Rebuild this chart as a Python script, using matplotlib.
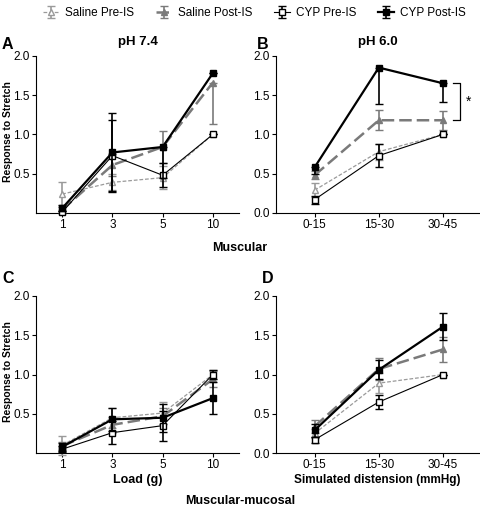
import matplotlib
matplotlib.use("Agg")
import matplotlib.pyplot as plt

plt.rcParams['font.family'] = ['Liberation Sans', 'DejaVu Sans']

series = ['Saline Pre-IS', 'Saline Post-IS', 'CYP Pre-IS', 'CYP Post-IS']
load_labels = ['1', '3', '5', '10']
dist_labels = ['0-15', '15-30', '30-45']

# means, lower and upper errors, one row per series (same order as `series`)
a_mean = [[0.24, 0.39, 0.45, 1.00],
          [0.04, 0.61, 0.84, 1.66],
          [0.01, 0.73, 0.48, 1.00],
          [0.06, 0.77, 0.84, 1.78]]
a_lo = [[0.16, 0.10, 0.15, 0.0],
        [0.04, 0.14, 0.20, 0.53],
        [0.01, 0.45, 0.15, 0.0],
        [0.04, 0.50, 0.40, 0.0]]
a_hi = [[0.16, 0.10, 0.15, 0.0],
        [0.04, 0.14, 0.20, 0.0],
        [0.01, 0.45, 0.15, 0.0],
        [0.04, 0.50, 0.0, 0.0]]

b_mean = [[0.29, 0.78, 1.00],
          [0.48, 1.18, 1.18],
          [0.17, 0.73, 1.00],
          [0.58, 1.85, 1.65]]
b_lo = [[0.09, 0.10, 0.0],
        [0.05, 0.13, 0.12],
        [0.05, 0.15, 0.0],
        [0.08, 0.46, 0.24]]
b_hi = [[0.09, 0.10, 0.0],
        [0.05, 0.13, 0.12],
        [0.05, 0.15, 0.0],
        [0.0, 0.0, 0.0]]

c_mean = [[0.10, 0.45, 0.51, 1.00],
          [0.09, 0.36, 0.47, 0.94],
          [0.05, 0.26, 0.35, 1.00],
          [0.08, 0.43, 0.45, 0.70]]
c_lo = [[0.12, 0.13, 0.14, 0.06],
        [0.05, 0.10, 0.10, 0.10],
        [0.04, 0.15, 0.19, 0.06],
        [0.05, 0.15, 0.18, 0.20]]
c_hi = c_lo

d_mean = [[0.25, 0.89, 1.00],
          [0.34, 1.07, 1.32],
          [0.17, 0.65, 1.00],
          [0.29, 1.06, 1.61]]
d_lo = [[0.06, 0.13, 0.0],
        [0.08, 0.14, 0.16],
        [0.04, 0.09, 0.0],
        [0.08, 0.12, 0.17]]
d_hi = d_lo

styles = [
    dict(color='#9a9a9a', ls=(0, (3, 1.5)), lw=0.9, marker='^', mfc='white', ms=5),
    dict(color='#7a7a7a', ls=(0, (5, 2)), lw=1.8, marker='^', mfc='#7a7a7a', ms=5),
    dict(color='black', ls='-', lw=0.8, marker='s', mfc='white', ms=5),
    dict(color='black', ls='-', lw=1.6, marker='s', mfc='black', ms=5),
]

fig = plt.figure(figsize=(4.8, 5.12), dpi=100)
ax_a = fig.add_axes([0.075, 0.584, 0.423, 0.307])
ax_b = fig.add_axes([0.575, 0.584, 0.423, 0.307])
ax_c = fig.add_axes([0.075, 0.115, 0.423, 0.307])
ax_d = fig.add_axes([0.575, 0.115, 0.423, 0.307])

handles = []
for ax, means, lo, hi, labels in [(ax_a, a_mean, a_lo, a_hi, load_labels),
                                  (ax_b, b_mean, b_lo, b_hi, dist_labels),
                                  (ax_c, c_mean, c_lo, c_hi, load_labels),
                                  (ax_d, d_mean, d_lo, d_hi, dist_labels)]:
    x = list(range(len(labels)))
    handles = []
    for i in range(4):
        st = styles[i]
        h = ax.errorbar(x, means[i], yerr=[lo[i], hi[i]], color=st['color'],
                        ls=st['ls'], lw=st['lw'], marker=st['marker'],
                        mfc=st['mfc'], mec=st['color'], ms=st['ms'], mew=1.0,
                        elinewidth=1.2, capsize=3, capthick=1.0, zorder=2 + i,
                        clip_on=False, label=series[i])
        handles.append(h)
    ax.set_xticks(x)
    ax.set_xticklabels(labels)
    ax.set_ylim(0, 2.0)
    for s in ['top', 'right']:
        ax.spines[s].set_visible(False)
    ax.tick_params(labelsize=8.5, length=3, width=0.8, direction='out', pad=1.5)

for ax in (ax_a, ax_c):
    ax.set_xlim(-0.52, 3.52)
    ax.set_yticks([0.5, 1.0, 1.5, 2.0])
    ax.set_yticklabels(['0.5', '1.0', '1.5', '2.0'])
for ax in (ax_b, ax_d):
    ax.set_xlim(-0.6, 2.56)
    ax.set_yticks([0.0, 0.5, 1.0, 1.5, 2.0])
    ax.set_yticklabels(['0.0', '0.5', '1.0', '1.5', '2.0'])

fig.text(0.016, 0.744, 'Response to Stretch', rotation=90, fontsize=7.5,
         fontweight='bold', ha='center', va='center')
fig.text(0.016, 0.275, 'Response to Stretch', rotation=90, fontsize=7.5,
         fontweight='bold', ha='center', va='center')

ax_c.set_xlabel('Load (g)', fontsize=9, fontweight='bold', labelpad=2)
ax_d.set_xlabel('Simulated distension (mmHg)', fontsize=8.5, fontweight='bold', labelpad=2)

ax_a.text(0.5, 1.05, 'pH 7.4', transform=ax_a.transAxes, ha='center', va='bottom',
          fontsize=9.5, fontweight='bold')
ax_b.text(0.5, 1.05, 'pH 6.0', transform=ax_b.transAxes, ha='center', va='bottom',
          fontsize=9.5, fontweight='bold')

# significance bracket in panel B
ax_b.plot([2.16, 2.26, 2.26, 2.16], [1.66, 1.66, 1.18, 1.18], color='black',
          lw=0.9, clip_on=False)
ax_b.text(2.4, 1.42, '*', ha='center', va='center', fontsize=10)

fig.text(0.004, 0.913, 'A', fontsize=11.5, fontweight='bold', va='center')
fig.text(0.535, 0.913, 'B', fontsize=11.5, fontweight='bold', va='center')
fig.text(0.004, 0.457, 'C', fontsize=11.5, fontweight='bold', va='center')
fig.text(0.545, 0.457, 'D', fontsize=11.5, fontweight='bold', va='center')
fig.text(0.5, 0.516, 'Muscular', fontsize=9, fontweight='bold', ha='center', va='center')
fig.text(0.5, 0.022, 'Muscular-mucosal', fontsize=9, fontweight='bold', ha='center',
         va='center')

fig.legend(handles, series, loc='center', bbox_to_anchor=(0.53, 0.975), ncol=4,
           frameon=False, fontsize=8.5, handlelength=1.4, handletextpad=0.5,
           columnspacing=1.8, borderaxespad=0)

fig.savefig('out.png', dpi=100)
